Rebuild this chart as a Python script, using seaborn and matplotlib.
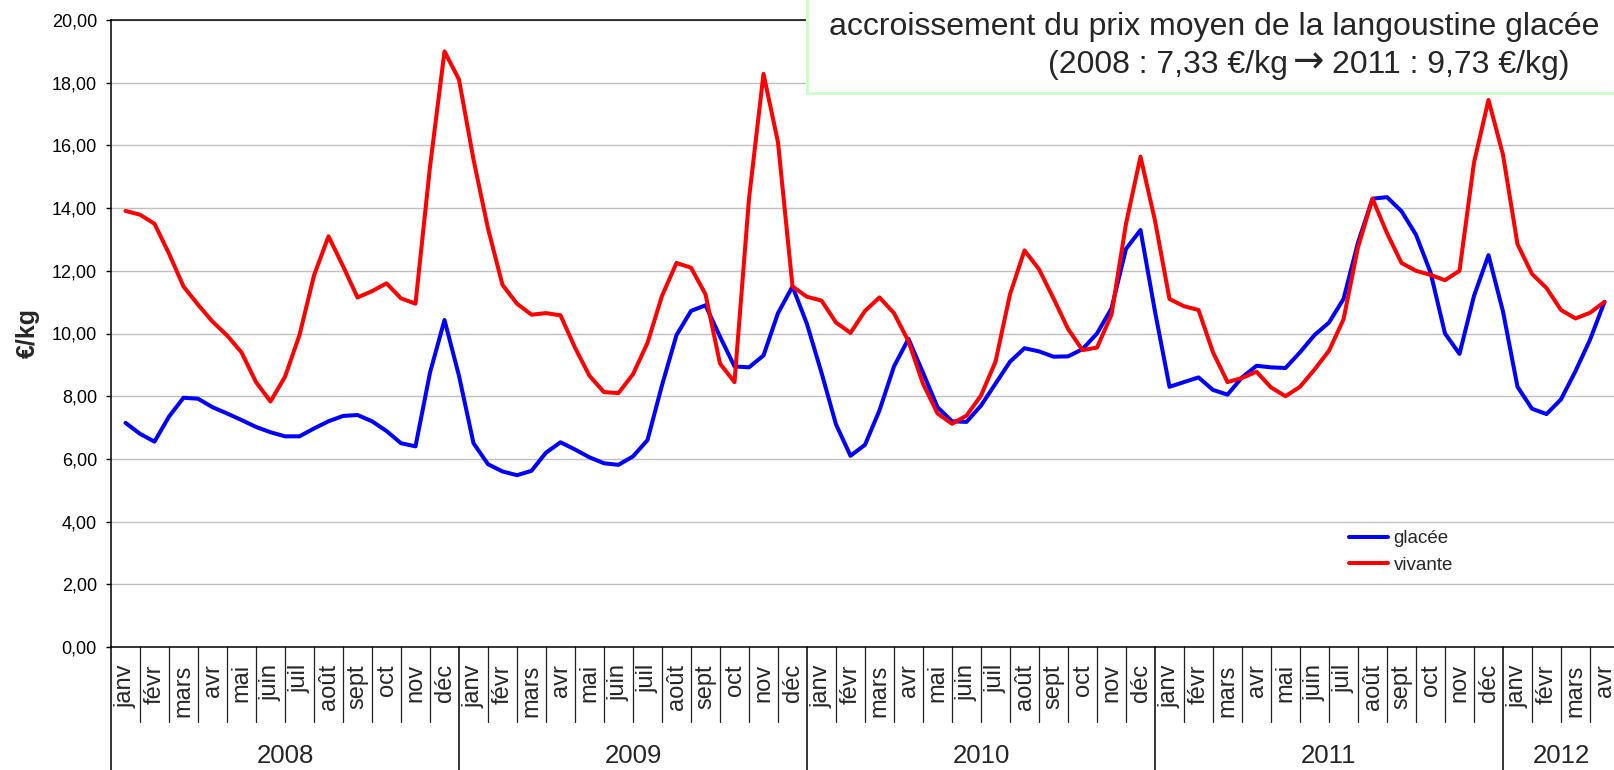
import numpy as np
import pandas as pd
import matplotlib
matplotlib.use('Agg')
import matplotlib.pyplot as plt
from matplotlib import transforms
from matplotlib.patches import Rectangle
from matplotlib.lines import Line2D
import seaborn as sns

# positions of the readings, in months since janv 2008 (two readings per month)
positions = np.arange(0, 51.5, 0.5)

# prix moyen, langoustine glacée (€/kg)
glacee = [7.15, 6.80, 6.55, 7.35, 7.95, 7.92, 7.65, 7.45, 7.24, 7.02,
          6.85, 6.72, 6.72, 6.97, 7.20, 7.37, 7.40, 7.20, 6.89, 6.50,
          6.40, 8.75, 10.43, 8.65, 6.50, 5.83, 5.60, 5.48, 5.62, 6.20,
          6.53, 6.30, 6.05, 5.86, 5.81, 6.08, 6.60, 8.35, 9.95, 10.72,
          10.90, 9.90, 8.95, 8.92, 9.30, 10.65, 11.50, 10.30, 8.75, 7.10,
          6.10, 6.45, 7.55, 8.95, 9.83, 8.75, 7.65, 7.20, 7.18, 7.70,
          8.40, 9.10, 9.53, 9.43, 9.26, 9.27, 9.50, 10.00, 10.80, 12.70,
          13.30, 10.70, 8.30, 8.45, 8.60, 8.20, 8.05, 8.60, 8.97, 8.92,
          8.90, 9.40, 9.95, 10.35, 11.10, 12.90, 14.30, 14.35, 13.90, 13.15,
          11.95, 10.00, 9.35, 11.20, 12.50, 10.70, 8.30, 7.60, 7.43, 7.90,
          8.80, 9.80, 11.01]

# prix moyen, langoustine vivante (€/kg)
vivante = [13.91, 13.79, 13.50, 12.55, 11.50, 10.92, 10.38, 9.94, 9.40, 8.45,
           7.83, 8.62, 9.95, 11.85, 13.10, 12.15, 11.15, 11.35, 11.60, 11.12,
           10.95, 15.32, 19.00, 18.10, 15.55, 13.35, 11.55, 10.95, 10.60, 10.65,
           10.58, 9.55, 8.65, 8.13, 8.10, 8.70, 9.70, 11.20, 12.25, 12.10,
           11.25, 9.04, 8.45, 14.30, 18.28, 16.10, 11.50, 11.17, 11.05, 10.35,
           10.02, 10.72, 11.15, 10.65, 9.75, 8.40, 7.45, 7.12, 7.38, 8.02,
           9.10, 11.25, 12.65, 12.05, 11.12, 10.15, 9.47, 9.55, 10.60, 13.50,
           15.64, 13.60, 11.10, 10.87, 10.75, 9.40, 8.45, 8.58, 8.78, 8.28,
           8.00, 8.30, 8.85, 9.45, 10.45, 12.75, 14.30, 13.20, 12.25, 12.00,
           11.87, 11.70, 12.00, 15.45, 17.45, 15.70, 12.85, 11.90, 11.45, 10.75,
           10.48, 10.66, 11.01]

# category axis
mois_noms = ["janv", "févr", "mars", "avr", "mai", "juin", "juil", "août",
             "sept", "oct", "nov", "déc"]
annees = ["2008", "2009", "2010", "2011", "2012"]
mois_par_annee = [12, 12, 12, 12, 4]

y_ticks = [0, 2, 4, 6, 8, 10, 12, 14, 16, 18, 20]
y_labels = [f"{v:.2f}".replace('.', ',') for v in y_ticks]

series_names = ["glacée", "vivante"]
couleurs = {"glacée": "#0000ff", "vivante": "#ff0000"}

texte_ligne2 = "accroissement du prix moyen de la langoustine glacée"
texte_ligne3 = ["(2008 : 7,33 €/kg", "\u2192", "2011 : 9,73 €/kg)"]

# build month labels
mois_labels = []
for n in mois_par_annee:
    mois_labels += mois_noms[:n]

sns.set_style('white')
plt.rcParams['font.family'] = ['Liberation Sans', 'DejaVu Sans']

W, H = 1615, 770
fig = plt.figure(figsize=(W / 100, H / 100), dpi=100)
ax = fig.add_axes([111 / W, 123 / H, 1508 / W, 627 / H])

n = len(positions)
df = pd.DataFrame({
    'mois': np.concatenate([positions, positions]),
    'prix': glacee + vivante,
    'type': [series_names[0]] * n + [series_names[1]] * n,
})

sns.lineplot(data=df, x='mois', y='prix', hue='type', hue_order=series_names,
             palette=couleurs, linewidth=2.9, estimator=None, legend=False,
             solid_joinstyle='round', solid_capstyle='round', ax=ax)

ax.set_xlim(-0.5, len(mois_labels) - 0.5)
ax.set_ylim(0, 20)
ax.set_xticks([])
ax.set_yticks(y_ticks)
ax.set_yticklabels(y_labels)
ax.set_xlabel('')
ax.set_ylabel('')
ax.grid(axis='y', color='#c0c0c0', linewidth=1.0)
ax.set_axisbelow(True)
ax.tick_params(axis='y', direction='out', left=True, length=3.6, width=1,
               pad=6.5, labelsize=13, colors='black')
for s in ax.spines.values():
    s.set_color('black')
    s.set_linewidth(1.1)

# legend
handles = [Line2D([], [], color=couleurs[s], lw=2.9) for s in series_names]
ax.legend(handles, series_names, loc='upper left', bbox_to_anchor=(0.817, 0.195),
          fontsize=13.5, frameon=True, facecolor='white', edgecolor='none',
          framealpha=1, fancybox=False, handlelength=2.1, handletextpad=0.3,
          labelspacing=0.5, borderpad=0.3, borderaxespad=0)

# two-level category axis (months / years)
trans = transforms.blended_transform_factory(ax.transData, ax.transAxes)
debuts_annee = list(np.cumsum([0] + mois_par_annee))
for i in range(len(mois_labels) + 1):
    x = i - 0.5
    if i in debuts_annee:
        ax.plot([x, x], [0, -0.2], transform=trans, clip_on=False,
                color='black', lw=1.1, scalex=False, scaley=False)
    else:
        ax.plot([x, x], [0, -0.119], transform=trans, clip_on=False,
                color='#202020', lw=0.9, scalex=False, scaley=False)

for i, lab in enumerate(mois_labels):
    ax.text(i, -0.0275, lab, transform=trans, rotation=90, ha='center',
            va='top', fontsize=17)

for a, start, nb in zip(annees, debuts_annee, mois_par_annee):
    ax.text(start + (nb - 1) / 2, -0.174, a, transform=trans, ha='center',
            va='center', fontsize=18.5)

fig.text(28 / W, 1 - 333 / H, '€/kg', rotation=90, ha='center', va='center',
         fontsize=18, fontweight='bold')

# annotation box (cut by the top/right edges)
fig.add_artist(Rectangle((807 / W, 1 - 93 / H), 0.6, 0.3, transform=fig.transFigure,
                         facecolor='white', edgecolor='#ccffcc', lw=2.2,
                         zorder=5, clip_on=False))
fig.text(829 / W, 1 - 35 / H, texte_ligne2, fontsize=23, ha='left',
         va='baseline', zorder=6)

# third line: text, heavy arrow, text
renderer = fig.canvas.get_renderer()
t1 = fig.text(1048 / W, 1 - 73 / H, texte_ligne3[0], fontsize=23, ha='left',
              va='baseline', zorder=6)
x_next = t1.get_window_extent(renderer).x1 + 5
t2 = fig.text(x_next / W, 1 - 72 / H, texte_ligne3[1], fontsize=27, ha='left',
              va='baseline', zorder=6, family=['DejaVu Sans'])
x_next = t2.get_window_extent(renderer).x1 + 8
fig.text(x_next / W, 1 - 73 / H, texte_ligne3[2], fontsize=23, ha='left',
         va='baseline', zorder=6)

fig.savefig('out.png', dpi=100)
